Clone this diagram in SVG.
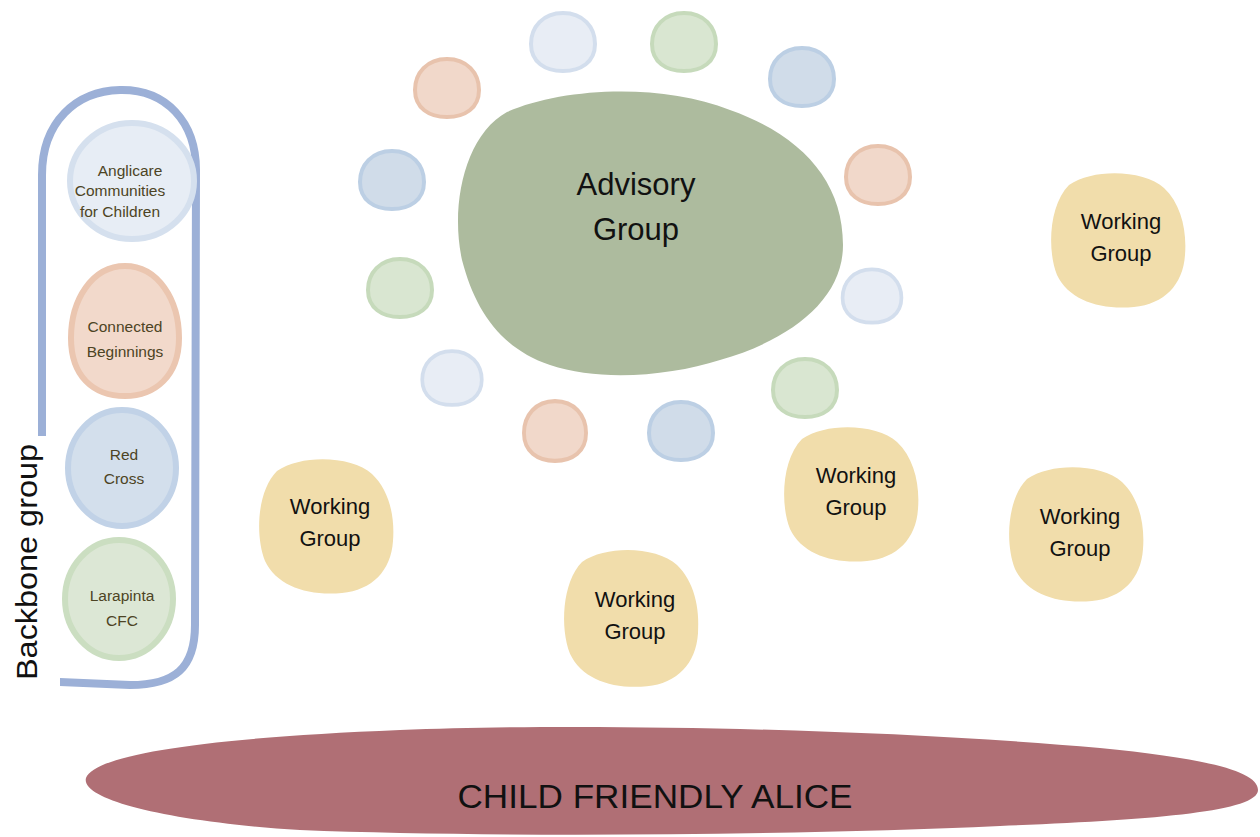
<svg xmlns="http://www.w3.org/2000/svg" xmlns:xlink="http://www.w3.org/1999/xlink" width="1260" height="837" viewBox="0 0 1260 837">
<style>
.light{fill:#e8edf5;stroke:#d3deed;stroke-width:4}
.green{fill:#d9e6d1;stroke:#c6dabb;stroke-width:4}
.blue{fill:#d0dce9;stroke:#bccfe4;stroke-width:4}
.orange{fill:#f1d8ca;stroke:#e8c3ad;stroke-width:4}
.wg{fill:#f1ddab}
.wgt{font-family:"Liberation Sans",Arial,sans-serif;font-size:22px;fill:#111;text-anchor:middle}
.bbt{font-family:"Liberation Sans",Arial,sans-serif;font-size:15.5px;fill:#4d4424;text-anchor:middle}
</style>
<defs>
<path id="sb" d="M 0,-29 C 20,-29 32,-15 32,2 C 32,20 18,29 0,29 C -18,29 -32,20 -32,2 C -32,-15 -20,-29 0,-29 Z"/>
<path id="wgb" d="M -50,-55 C -25,-72 25,-70 45,-52 C 62,-36 68,-10 66,15 C 64,45 45,64 15,67 C -20,70 -50,60 -62,35 C -72,10 -70,-35 -50,-55 Z"/>
</defs>
<rect width="1260" height="837" fill="#ffffff"/>
<g id="connectors"/>

<g id="backbone">
<path d="M 42,175 C 42,122 76,91 120,90 C 166,89 196,122 196,170 L 195,625 C 195,668 175,685 130,685 L 60,682 C 48,682 42,670 42,650 Z" fill="none" stroke="#9cb0d7" stroke-width="8"/>
<rect x="0" y="436" width="60" height="262" fill="#ffffff"/>
<text x="27" y="562" transform="rotate(-90 27 562)" font-family="Liberation Sans, Arial, sans-serif" font-size="29" fill="#111" text-anchor="middle" dominant-baseline="central" textLength="236" lengthAdjust="spacingAndGlyphs">Backbone group</text>
</g>
<g id="anglicare">
<ellipse cx="132" cy="181" rx="62" ry="58" fill="#e7edf5" stroke="#d5e0ee" stroke-width="6"/>
<text class="bbt" x="130" y="176">Anglicare</text>
<text class="bbt" x="120" y="196">Communities</text>
<text class="bbt" x="120" y="217">for Children</text>
</g>
<g id="connected">
<path d="M 125,266 C 158,266 179,300 179,338 C 179,376 155,396 125,396 C 93,396 71,376 71,338 C 71,300 92,266 125,266 Z" fill="#f2d9cb" stroke="#ebc6b0" stroke-width="6"/>
<text class="bbt" x="125" y="332">Connected</text>
<text class="bbt" x="125" y="357" font-size="18">Beginnings</text>
</g>
<g id="redcross">
<ellipse cx="122" cy="468" rx="54" ry="58" fill="#d3dfec" stroke="#c1d2e7" stroke-width="6"/>
<text class="bbt" x="124" y="460">Red</text>
<text class="bbt" x="124" y="484">Cross</text>
</g>
<g id="larapinta">
<ellipse cx="119" cy="599" rx="54" ry="59" fill="#dce7d5" stroke="#cbdec1" stroke-width="6"/>
<text class="bbt" x="122" y="601">Larapinta</text>
<text class="bbt" x="122" y="626">CFC</text>
</g>

<g id="advisory">
<path d="M 507,112 C 560,88 660,82 730,110 C 800,135 843,180 843,245 C 843,300 790,340 720,360 C 670,376 600,382 550,365 C 500,348 475,310 462,260 C 450,205 465,135 507,112 Z" fill="#adbb9e"/>
<text x="636" y="195" font-family="Liberation Sans, Arial, sans-serif" font-size="31" fill="#111" text-anchor="middle">Advisory</text>
<text x="636" y="240" font-family="Liberation Sans, Arial, sans-serif" font-size="31" fill="#111" text-anchor="middle">Group</text>
</g>

<g id="members">
<use xlink:href="#sb" href="#sb" class="light" transform="translate(563,42)"/>
<use xlink:href="#sb" href="#sb" class="green" transform="translate(684,42)"/>
<use xlink:href="#sb" href="#sb" class="blue" transform="translate(802,77)"/>
<use xlink:href="#sb" href="#sb" class="orange" transform="translate(447,88)"/>
<use xlink:href="#sb" href="#sb" class="blue" transform="translate(392,180)"/>
<use xlink:href="#sb" href="#sb" class="orange" transform="translate(878,175)"/>
<use xlink:href="#sb" href="#sb" class="green" transform="translate(400,288)"/>
<use xlink:href="#sb" href="#sb" class="light" transform="translate(872,296) scale(0.92)"/>
<use xlink:href="#sb" href="#sb" class="light" transform="translate(452,378) scale(0.93)"/>
<use xlink:href="#sb" href="#sb" class="green" transform="translate(805,388)"/>
<use xlink:href="#sb" href="#sb" class="orange" transform="translate(555,431) scale(0.97,1.03)"/>
<use xlink:href="#sb" href="#sb" class="blue" transform="translate(681,431)"/>
</g>

<g id="wg1">
<use xlink:href="#wgb" href="#wgb" class="wg" transform="translate(1119,240)"/>
<text class="wgt" x="1121" y="229">Working</text>
<text class="wgt" x="1121" y="261">Group</text>
</g>
<g id="wg2">
<use xlink:href="#wgb" href="#wgb" class="wg" transform="translate(852,494)"/>
<text class="wgt" x="856" y="483">Working</text>
<text class="wgt" x="856" y="515">Group</text>
</g>
<g id="wg3">
<use xlink:href="#wgb" href="#wgb" class="wg" transform="translate(1077,534)"/>
<text class="wgt" x="1080" y="524">Working</text>
<text class="wgt" x="1080" y="556">Group</text>
</g>
<g id="wg4">
<use xlink:href="#wgb" href="#wgb" class="wg" transform="translate(327,526)"/>
<text class="wgt" x="330" y="514">Working</text>
<text class="wgt" x="330" y="546">Group</text>
</g>
<g id="wg5">
<use xlink:href="#wgb" href="#wgb" class="wg" transform="translate(632,618) scale(1,1.02)"/>
<text class="wgt" x="635" y="607">Working</text>
<text class="wgt" x="635" y="639">Group</text>
</g>

<g id="alice">
<path d="M 86,778 C 95,755 200,738 400,730 C 600,722 900,730 1100,748 C 1200,758 1258,770 1258,790 C 1258,812 1150,820 1000,826 C 800,835 500,838 300,830 C 170,822 80,800 86,778 Z" fill="#b06f75"/>
<text x="655" y="808" font-family="Liberation Sans, Arial, sans-serif" font-size="34" fill="#111" text-anchor="middle" textLength="395" lengthAdjust="spacingAndGlyphs">CHILD FRIENDLY ALICE</text>
</g>
</svg>
